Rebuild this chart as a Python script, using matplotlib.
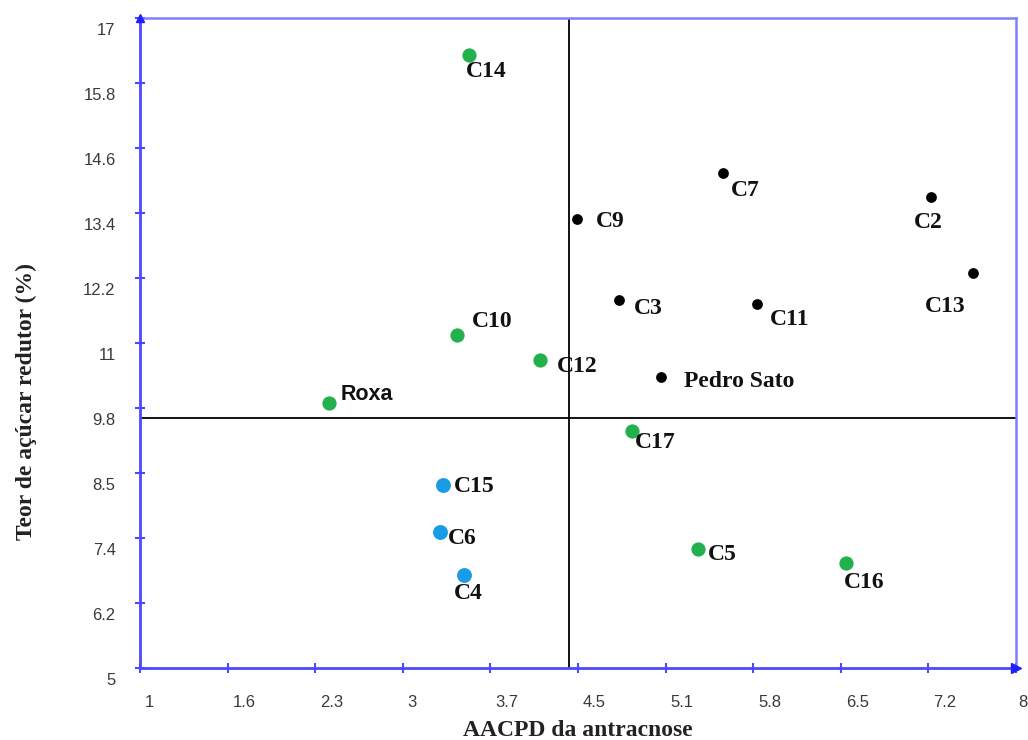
import matplotlib
matplotlib.use("Agg")
import matplotlib.pyplot as plt
from matplotlib.transforms import ScaledTranslation

# ---------------- data ----------------
green_names = ["C14", "C10", "C12", "Roxa", "C17", "C5", "C16"]
green_x = [3.63, 3.53, 4.20, 2.51, 4.93, 5.46, 6.64]
green_y = [16.32, 11.15, 10.69, 9.89, 9.38, 7.20, 6.94]

black_names = ["C7", "C9", "C2", "C13", "C3", "C11", "Pedro Sato"]
black_x = [5.66, 4.49, 7.32, 7.66, 4.83, 5.93, 5.16]
black_y = [14.14, 13.29, 13.70, 12.29, 11.79, 11.72, 10.37]

blue_names = ["C15", "C6", "C4"]
blue_x = [3.42, 3.40, 3.59]
blue_y = [8.38, 7.51, 6.72]

ref_x = 4.43
ref_y = 9.615

xtick_labels = ["1", "1.6", "2.3", "3", "3.7", "4.5", "5.1", "5.8", "6.5", "7.2", "8"]
ytick_labels = ["5", "6.2", "7.4", "8.5", "9.8", "11", "12.2", "13.4", "14.6", "15.8", "17"]

# label offsets in pixels (dx, dy up), center-aligned
label_off = {
    "C14": (17, -17), "C10": (36, 13), "C12": (37, -7), "C17": (23, -12),
    "C5": (24, -6), "C16": (18, -20),
    "C7": (22, -18), "C9": (34, -3), "C2": (-3, -26), "C13": (-28, -33),
    "C3": (29, -8), "C11": (33, -16),
    "C15": (31, -2), "C6": (22, -6), "C4": (4, -19),
}

# ---------------- figure ----------------
fig = plt.figure(figsize=(10.28, 7.40), dpi=100)
ax = fig.add_axes([140/1028, 1 - 668/740, 876/1028, 650/740])
ax.set_xlim(1, 8)
ax.set_ylim(5, 17)

green_c = "#22b14c"
blue_c = "#1a9be6"
axis_c = "#4a4aff"
light_c = "#7f7fff"

# reference lines
ax.axvline(ref_x, color="black", lw=1.3, zorder=1)
ax.axhline(ref_y, color="black", lw=1.3, zorder=1)

ax.scatter(green_x, green_y, s=105, color=green_c, zorder=3, linewidths=0)
ax.scatter(black_x, black_y, s=60, color="black", zorder=3, linewidths=0)
ax.scatter(blue_x, blue_y, s=115, color=blue_c, zorder=3, linewidths=0)

lab_font = dict(family="Liberation Serif", fontweight="bold", fontsize=17, color="#111111")

for names, xs, ys in [(green_names, green_x, green_y), (black_names, black_x, black_y),
                      (blue_names, blue_x, blue_y)]:
    for n, x, y in zip(names, xs, ys):
        if n == "Roxa":
            ax.annotate(n, (x, y), xytext=(12, 9), textcoords="offset pixels",
                        ha="left", va="center", family="Liberation Sans",
                        fontweight="bold", fontsize=15.5, color="#111111")
        elif n == "Pedro Sato":
            ax.annotate(n, (x, y), xytext=(23, -4), textcoords="offset pixels",
                        ha="left", va="center", **lab_font)
        else:
            dx, dy = label_off[n]
            ax.annotate(n, (x, y), xytext=(dx, dy), textcoords="offset pixels",
                        ha="center", va="center", **lab_font)

# spines
for s in ["left", "bottom"]:
    ax.spines[s].set_color(axis_c)
    ax.spines[s].set_linewidth(2.0)
for s in ["top", "right"]:
    ax.spines[s].set_color(light_c)
    ax.spines[s].set_linewidth(1.8)

# ticks
xt = [1 + 0.7 * i for i in range(11)]
yt = [5 + 1.2 * i for i in range(11)]
ax.set_xticks(xt)
ax.set_xticklabels(xtick_labels)
ax.set_yticks(yt)
ax.set_yticklabels(ytick_labels)
ax.tick_params(axis="both", direction="inout", length=7, width=1.5, color=axis_c,
               labelsize=12, labelcolor="#3a3a3a")
ax.tick_params(axis="x", pad=16)
ax.tick_params(axis="y", pad=14)
xlabs = ax.get_xticklabels()
for i, lab in enumerate(xlabs):
    lab.set_fontfamily("Liberation Sans")
    lab.set_horizontalalignment("left")
    shift = 0.05 if i < len(xlabs) - 1 else 0.02
    lab.set_transform(lab.get_transform() + ScaledTranslation(shift, 0, fig.dpi_scale_trans))
for lab in ax.get_yticklabels():
    lab.set_fontfamily("Liberation Sans")
    lab.set_transform(lab.get_transform() + ScaledTranslation(0, -0.11, fig.dpi_scale_trans))

# arrowheads
ax.plot([1], [17], marker="^", color="#2020ff", markersize=6, clip_on=False, zorder=5)
ax.plot([8], [5], marker=">", color="#2020ff", markersize=7, clip_on=False, zorder=5)

ax.set_xlabel("AACPD da antracnose", family="Liberation Serif", fontweight="bold",
              fontsize=17, color="#222222", labelpad=7)
ax.set_ylabel("Teor de açúcar redutor (%)", family="Liberation Serif", fontweight="bold",
              fontsize=17, color="#222222", labelpad=33)
ax.yaxis.label.set_y(0.41)

fig.savefig("out.png", dpi=100)
